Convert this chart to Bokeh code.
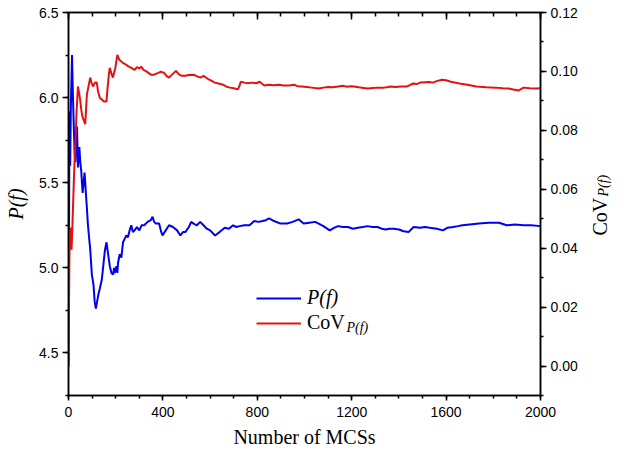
import math
import numpy as np
from bokeh.plotting import figure
from bokeh.layouts import row
from bokeh.models import (Range1d, LinearAxis, FixedTicker, NumeralTickFormatter,
                          Legend, LegendItem, Label)
from bokeh.embed import file_html
from bokeh.resources import INLINE

# ---------------- data ----------------
mcs_pf = [0, 2, 4, 7, 10, 15, 18, 22, 26, 29, 33, 36, 40, 43, 46, 50, 54, 57, 60, 64,
          68, 71, 74, 78, 82, 87, 92, 99, 106, 111, 116, 121, 126, 133, 141, 148, 154,
          161, 168, 175, 182, 189, 193, 196, 203, 207, 210, 217, 224, 231, 238, 245,
          252, 259, 266, 273, 280, 290, 300, 310, 321, 335, 349, 356, 363, 370, 384,
          391, 398, 412, 426, 443, 460, 474, 485, 495, 510, 520, 530, 544, 558, 572,
          586, 600, 621, 640, 662, 680, 697, 712, 725, 745, 767, 787, 805, 822, 836,
          850, 871, 898, 926, 950, 975, 996, 1020, 1045, 1060, 1080, 1107, 1125, 1142,
          1163, 1184, 1205, 1226, 1247, 1267, 1288, 1309, 1327, 1344, 1360, 1378, 1400,
          1420, 1441, 1462, 1490, 1510, 1531, 1560, 1586, 1605, 1630, 1650, 1669, 1700,
          1740, 1780, 1824, 1857, 1890, 1928, 1960, 2000]
pf = [4.42, 5.11, 5.92, 5.60, 5.95, 6.25, 6.05, 5.85, 5.67, 5.62, 5.75, 5.83, 5.59, 5.65,
      5.71, 5.62, 5.57, 5.50, 5.44, 5.50, 5.56, 5.50, 5.43, 5.35, 5.26, 5.18, 5.11, 4.96,
      4.90, 4.80, 4.76, 4.80, 4.84, 4.88, 4.93, 5.02, 5.10, 5.15, 5.08, 5.01, 4.97, 4.96,
      5.00, 4.97, 5.01, 4.97, 5.03, 5.08, 5.06, 5.15, 5.17, 5.19, 5.18, 5.22, 5.25, 5.21,
      5.22, 5.24, 5.22, 5.25, 5.25, 5.27, 5.28, 5.30, 5.27, 5.26, 5.26, 5.22, 5.19, 5.22,
      5.25, 5.24, 5.22, 5.19, 5.21, 5.21, 5.24, 5.27, 5.26, 5.25, 5.27, 5.25, 5.23, 5.22,
      5.19, 5.21, 5.235, 5.23, 5.25, 5.24, 5.245, 5.25, 5.25, 5.275, 5.27, 5.275, 5.28,
      5.29, 5.275, 5.26, 5.26, 5.27, 5.285, 5.26, 5.265, 5.27, 5.26, 5.245, 5.22, 5.235,
      5.245, 5.24, 5.24, 5.23, 5.235, 5.24, 5.245, 5.24, 5.24, 5.23, 5.225, 5.23, 5.23,
      5.225, 5.215, 5.21, 5.24, 5.235, 5.24, 5.235, 5.23, 5.22, 5.235, 5.24, 5.245, 5.25,
      5.255, 5.26, 5.265, 5.265, 5.25, 5.255, 5.25, 5.25, 5.245]

mcs_cov = [0, 4, 8, 13, 17, 21, 25, 29, 34, 40, 46, 50, 54, 58, 63, 71, 75, 78, 85, 92,
           98, 104, 112, 120, 125, 133, 141, 150, 161, 164, 167, 171, 175, 181, 188, 198,
           207, 215, 222, 230, 240, 252, 266, 280, 290, 300, 308, 318, 330, 349, 363, 380,
           392, 405, 415, 426, 440, 455, 468, 480, 495, 510, 530, 545, 559, 572, 590, 605,
           620, 640, 655, 670, 684, 700, 718, 724, 730, 745, 760, 780, 795, 810, 820, 830,
           850, 870, 893, 910, 935, 956, 970, 989, 1010, 1030, 1060, 1080, 1100, 1120,
           1143, 1165, 1180, 1195, 1210, 1230, 1250, 1269, 1290, 1310, 1335, 1350, 1365,
           1385, 1410, 1435, 1461, 1475, 1490, 1510, 1530, 1544, 1560, 1582, 1600, 1620,
           1657, 1690, 1728, 1770, 1811, 1840, 1865, 1890, 1907, 1928, 1955, 1982, 2000]
cov = [0.000, 0.0385, 0.047, 0.0395, 0.0486, 0.0587, 0.068, 0.0754, 0.086, 0.0949, 0.0922,
       0.090, 0.0871, 0.085, 0.0838, 0.0821, 0.088, 0.0922, 0.095, 0.0979, 0.096, 0.0949,
       0.0962, 0.0962, 0.0932, 0.091, 0.0905, 0.0898, 0.0898, 0.093, 0.0955, 0.099, 0.1012,
       0.0995, 0.0979, 0.101, 0.1056, 0.104, 0.1035, 0.1029, 0.1025, 0.1018, 0.1012, 0.1005,
       0.1015, 0.1010, 0.1016, 0.1005, 0.1000, 0.0989, 0.0989, 0.0995, 0.0999, 0.0995,
       0.0985, 0.0979, 0.0990, 0.1002, 0.0990, 0.0985, 0.0985, 0.0988, 0.0989, 0.0983,
       0.0979, 0.0985, 0.0975, 0.0969, 0.0962, 0.0958, 0.0955, 0.0948, 0.0945, 0.0943,
       0.0939, 0.0950, 0.0965, 0.0962, 0.0960, 0.0962, 0.0960, 0.0965, 0.0958, 0.0952,
       0.0955, 0.0953, 0.0955, 0.0952, 0.0952, 0.0955, 0.0950, 0.0949, 0.0947, 0.0945,
       0.0942, 0.0945, 0.0947, 0.0946, 0.0949, 0.0951, 0.0948, 0.0950, 0.0949, 0.0946,
       0.0944, 0.0942, 0.0944, 0.0945, 0.0945, 0.0946, 0.0949, 0.0947, 0.0949, 0.0949,
       0.0959, 0.0957, 0.0962, 0.0963, 0.0964, 0.0962, 0.0967, 0.0972, 0.0970, 0.0965,
       0.0959, 0.0955, 0.0949, 0.0946, 0.0945, 0.0943, 0.0942, 0.0938, 0.0935, 0.0945,
       0.0943, 0.0942, 0.0943]

x_ticks = [0, 400, 800, 1200, 1600, 2000]
pf_ticks = [4.5, 5.0, 5.5, 6.0, 6.5]
cov_ticks = [0.00, 0.02, 0.04, 0.06, 0.08, 0.10, 0.12]

# ---------------- figure ----------------
SANS = "Liberation Sans"
SERIF = "Liberation Serif"
BLUE = "#0000ee"
RED = "#e31212"

MAIN_W, SIDE_W, H = 589, 24, 452

p = figure(width=MAIN_W, height=H, output_backend="svg", toolbar_location=None,
           x_range=Range1d(0, 2000), y_range=Range1d(4.25, 6.5),
           min_border_left=68, min_border_right=49, min_border_top=12,
           min_border_bottom=57)
p.extra_y_ranges = {"cov": Range1d(-0.01, 0.12)}
p.grid.visible = False
p.outline_line_color = "black"
p.outline_line_width = 1.5
p.background_fill_color = "white"
p.border_fill_color = "white"

x_minor = list(np.arange(0, 2001, 100))
pf_minor = list(np.arange(4.25, 6.51, 0.25))
cov_minor = list(np.round(np.arange(-0.01, 0.1201, 0.01), 3))


def style_axis(ax):
    ax.axis_line_color = "black"
    ax.axis_line_width = 1.5
    ax.major_tick_line_color = "black"
    ax.major_tick_line_width = 1.5
    ax.minor_tick_line_color = "black"
    ax.minor_tick_line_width = 1.5
    ax.major_label_text_font = SANS
    ax.major_label_text_font_size = "14px"
    ax.major_label_text_color = "black"


# bottom axis
xa = p.xaxis[0]
xa.ticker = FixedTicker(ticks=x_ticks, minor_ticks=x_minor)
style_axis(xa)
xa.major_tick_out = 5
xa.major_tick_in = 0
xa.minor_tick_out = 3
xa.minor_tick_in = 0
xa.major_label_standoff = 6
xa.axis_label = "Number of MCSs"
xa.axis_label_text_font = SERIF
xa.axis_label_text_font_style = "normal"
xa.axis_label_text_font_size = "20px"
xa.axis_label_text_color = "black"
xa.axis_label_standoff = 6

# left axis
ya = p.yaxis[0]
ya.ticker = FixedTicker(ticks=pf_ticks, minor_ticks=pf_minor)
ya.formatter = NumeralTickFormatter(format="0.0")
style_axis(ya)
ya.major_tick_out = 6
ya.major_tick_in = 0
ya.minor_tick_out = 3
ya.minor_tick_in = 0
ya.major_label_standoff = 4
ya.axis_label = "P(f)"
ya.axis_label_text_font = SERIF
ya.axis_label_text_font_style = "italic"
ya.axis_label_text_font_size = "20px"
ya.axis_label_text_color = "black"
ya.axis_label_standoff = 9

# right axis
ra = LinearAxis(y_range_name="cov",
                ticker=FixedTicker(ticks=cov_ticks, minor_ticks=cov_minor),
                formatter=NumeralTickFormatter(format="0.00"))
style_axis(ra)
ra.major_tick_out = 6
ra.major_tick_in = 0
ra.minor_tick_out = 3
ra.minor_tick_in = 0
ra.major_label_standoff = 4
p.add_layout(ra, "right")

# top axis (ticks only, inward, no labels)
ta = LinearAxis(ticker=FixedTicker(ticks=x_ticks, minor_ticks=x_minor),
                major_label_overrides={t: "" for t in x_ticks})
style_axis(ta)
ta.major_tick_out = 0
ta.major_tick_in = 7
ta.minor_tick_out = 0
ta.minor_tick_in = 4
ta.major_label_standoff = 0
p.add_layout(ta, "above")

# ---------------- series ----------------
r_pf = p.line(mcs_pf, pf, line_color=BLUE, line_width=2)
r_cov = p.line(mcs_cov, cov, y_range_name="cov", line_color=RED, line_width=2)

# ---------------- legend ----------------
common = dict(glyph_width=45, glyph_height=22, label_height=22, padding=0, margin=0,
              border_line_color=None, background_fill_alpha=0, label_standoff=6,
              label_text_font=SERIF, label_text_font_size="20px",
              label_text_color="black")
leg1 = Legend(items=[LegendItem(label="P(f)", renderers=[r_pf])], location=(188, 86),
              label_text_font_style="italic", **common)
leg2 = Legend(items=[LegendItem(label="CoV", renderers=[r_cov])], location=(188, 61),
              label_text_font_style="normal", **common)
p.add_layout(leg1)
p.add_layout(leg2)
p.add_layout(Label(x=278, y=61, x_units="screen", y_units="screen", text="P(f)",
                   text_font=SERIF, text_font_style="italic", text_font_size="14px",
                   text_color="black"))

# ---------------- right-hand title: CoV with subscript P(f) ----------------
side = figure(width=SIDE_W, height=H, output_backend="svg", toolbar_location=None,
              x_range=Range1d(0, 1), y_range=Range1d(0, 1),
              x_axis_location=None, y_axis_location=None,
              min_border_left=0, min_border_right=0, min_border_top=0,
              min_border_bottom=0)
side.grid.visible = False
side.outline_line_color = None
side.background_fill_color = "white"
side.border_fill_color = "white"
side.add_layout(Label(x=10, y=160, x_units="screen", y_units="screen", text="CoV",
                      angle=math.pi / 2, text_align="left", text_baseline="alphabetic",
                      text_font=SERIF, text_font_size="20px", text_color="black"))
side.add_layout(Label(x=14, y=199, x_units="screen", y_units="screen", text="P(f)",
                      angle=math.pi / 2, text_align="left", text_baseline="alphabetic",
                      text_font=SERIF, text_font_style="italic", text_font_size="14px",
                      text_color="black"))

layout = row(p, side)
open("out.html", "w").write(file_html(layout, INLINE))
